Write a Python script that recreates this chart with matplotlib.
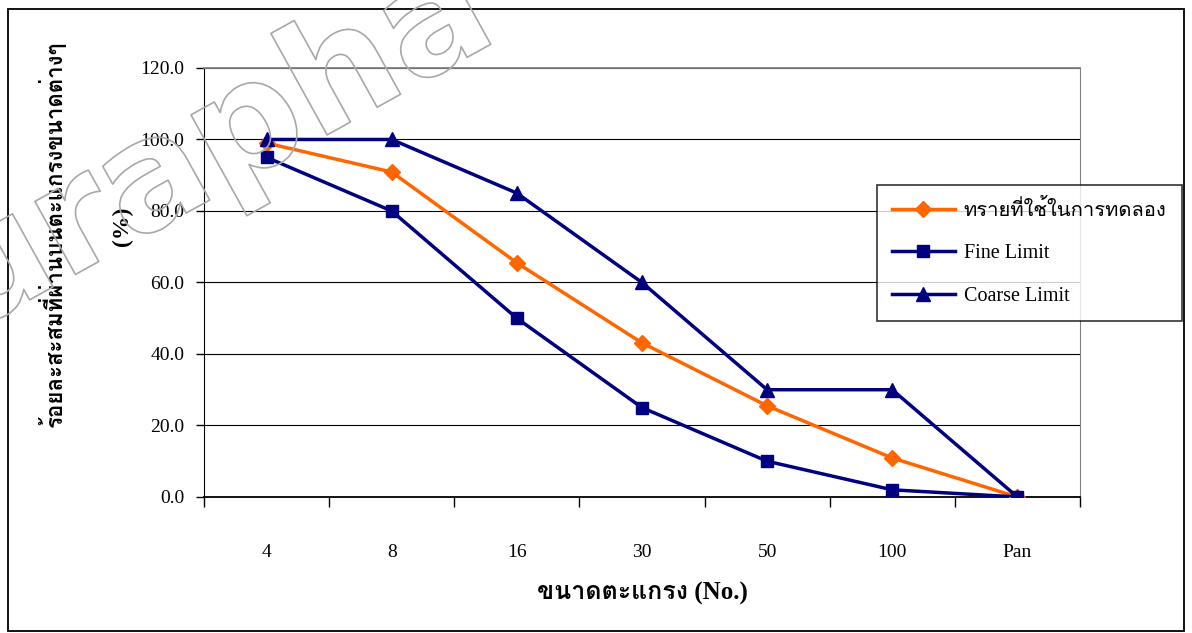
import numpy as np
import matplotlib
matplotlib.use("Agg")
import matplotlib.pyplot as plt
import matplotlib.patheffects as pe
from matplotlib import font_manager
from matplotlib.ft2font import FT2Font
from matplotlib.patches import Rectangle

# data
sieves = ['4', '8', '16', '30', '50', '100', 'Pan']
sand = [99.0, 90.9, 65.5, 43.1, 25.5, 10.9, 0.0]
fine_limit = [95.0, 80.0, 50.0, 25.0, 10.0, 2.0, 0.0]
coarse_limit = [100.0, 100.0, 85.0, 60.0, 30.0, 30.0, 0.0]
yticks = [0, 20, 40, 60, 80, 100, 120]

# find a font that has thai glyphs
thai_font = None
for f in font_manager.fontManager.ttflist:
    try:
        if 0x0E01 in FT2Font(f.fname).get_charmap():
            thai_font = f.name
            break
    except Exception:
        pass
fams = ['Liberation Serif'] + ([thai_font] if thai_font else []) + ['DejaVu Sans']
plt.rcParams['font.family'] = fams

fig = plt.figure(figsize=(11.92, 6.33), dpi=100)
ax = fig.add_axes([0.1711, 0.2149, 0.7349, 0.6777])

x = np.arange(len(sieves))
ax.plot(x, sand, color='#FF6600', lw=2.5, marker='D', ms=8, label='ทรายที่ใช้ในการทดลอง', zorder=3)
ax.plot(x, fine_limit, color='#000080', lw=2.5, marker='s', ms=8.5, label='Fine Limit', zorder=3)
ax.plot(x, coarse_limit, color='#000080', lw=2.5, marker='^', ms=10, label='Coarse Limit', zorder=4)

ax.set_xlim(-0.5, 6.5)
ax.set_ylim(0, 120)
ax.set_yticks(yticks)
ax.set_yticklabels(['%.1f' % v for v in yticks], fontsize=14)
ax.tick_params(axis='y', length=6, width=1, pad=8, color='black')
ax.set_xticks(x)
ax.set_xticklabels(sieves, fontsize=14)
ax.tick_params(axis='x', which='major', length=0, pad=34)
ax.set_xticks(np.arange(-0.5, 7, 1), minor=True)
ax.tick_params(axis='x', which='minor', length=7, width=1, direction='out')
ax.grid(axis='y', color='black', lw=0.8)
ax.set_axisbelow(True)

ax.spines['left'].set_color('black')
ax.spines['bottom'].set_color('black')
ax.spines['bottom'].set_linewidth(1.3)
ax.spines['top'].set_color('#808080')
ax.spines['right'].set_color('#808080')
ax.spines['top'].set_linewidth(1.3)

fig.text(0.539, 0.063, 'ขนาดตะแกรง (No.)', fontsize=18, fontweight='bold', ha='center', va='center')
fig.text(0.044, 0.63, 'ร้อยละสะสมที่ผ่านบนตะแกรงขนาดต่างๆ', fontsize=16, fontweight='bold',
         rotation=90, ha='center', va='center')
fig.text(0.103, 0.643, '(%)', fontsize=17, fontweight='bold', rotation=90, ha='center', va='center')

leg = ax.legend(loc='upper left', bbox_to_anchor=(0.7358, 0.7077), bbox_transform=fig.transFigure,
                fontsize=14.5, frameon=True, fancybox=False, edgecolor='black', borderpad=0.75,
                labelspacing=1.15, handlelength=3.1, handletextpad=0.45, borderaxespad=0)
leg.get_frame().set_linewidth(1.2)

# outline watermark
fig.text(0.18, 0.765, 'urapha', fontsize=110, family='DejaVu Sans', fontweight='bold', rotation=29,
         ha='center', va='center', color='none',
         path_effects=[pe.Stroke(linewidth=1.2, foreground='#a8a8a8')], zorder=10)

fig.patches.append(Rectangle((0.007, 0.003), 0.986, 0.983, transform=fig.transFigure,
                             fill=False, edgecolor='black', lw=1.3))

fig.savefig('out.png', dpi=100)
